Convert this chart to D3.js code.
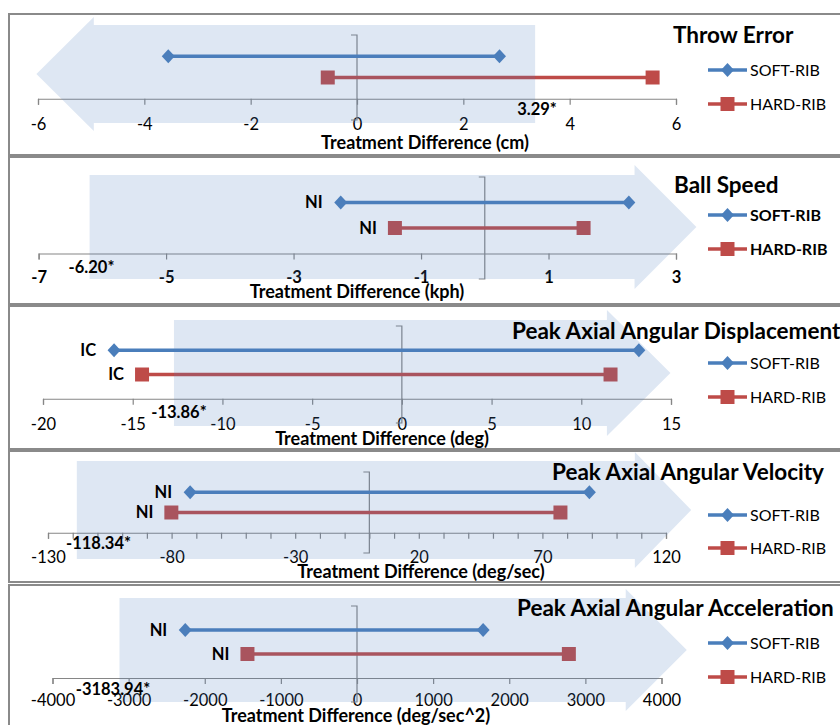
<!DOCTYPE html>
<html><head><meta charset="utf-8">
<script src="https://cdn.jsdelivr.net/npm/d3@7/dist/d3.min.js"></script>
<style>
body{margin:0;background:#fff}
svg{display:block}
text{font-family:Lato,"Open Sans",sans-serif;fill:#000}
</style></head>
<body><svg id="chart" width="840" height="725"></svg>
<script>
// ---------- data ----------
const panelTitles = ["Throw Error","Ball Speed","Peak Axial Angular Displacement","Peak Axial Angular Velocity","Peak Axial Angular Acceleration"];
const axisTitles = ["Treatment Difference (cm)","Treatment Difference (kph)","Treatment Difference (deg)","Treatment Difference (deg/sec)","Treatment Difference (deg/sec^2)"];
const domainMin = [-6,-7,-20,-130,-4000];
const domainMax = [6,3,15,120,4000];
const majorStep = [2,2,5,50,1000];
const minorStep = [2,2,5,10,1000];
const seriesNames = ["SOFT-RIB","HARD-RIB"];
const softLow  = [-3.55,-2.26,-16.04,-72.5,-2256];
const softHigh = [2.68,2.26,13.21,89.0,1657];
const hardLow  = [-0.55,-1.41,-14.48,-80.1,-1439];
const hardHigh = [5.56,1.55,11.63,77.3,2783];
const softNote = ["","NI","IC","NI","NI"];
const hardNote = ["","NI","IC","NI","NI"];
const thresholdLabels = ["3.29*","-6.20*","-13.86*","-118.34*","-3183.94*"];
const arrowTail = [3.35,-6.20,-12.7,-118.34,-3120];
const arrowHeadBase = [-4.95,2.35,11.43,107.4,3530];
const arrowTip = [-6.03,3.32,14.97,130.2,4332];

// ---------- layout ----------
const layout = [
 {top:14,bottom:155,xL:38,xR:676,plotTop:35,plotBot:120,pad:14,cy:74,bodyH:49,headH:57,titleX:673,titleY:35,legY:[70,104],atX:425,atY:143,statX:537,statY:115,bold:false},
 {top:157,bottom:304,xL:38.6,xR:676,plotTop:177,plotBot:279,pad:12,cy:227,bodyH:52,headH:62,titleX:674,titleY:185,legY:[215,249],atX:357,atY:292,statX:91.5,statY:273,bold:true},
 {top:306,bottom:449,xL:43,xR:671,plotTop:326,plotBot:423,pad:14,cy:373,bodyH:53,headH:63,titleX:512,titleY:331,legY:[363,397],atX:382,atY:439,statX:179,statY:418,bold:false},
 {top:451,bottom:582,xL:48,xR:666,plotTop:472,plotBot:553,pad:13,cy:510,bodyH:49,headH:58,titleX:552,titleY:472,legY:[515,548],atX:421,atY:572,statX:98.5,statY:549,bold:false},
 {top:585,bottom:760,xL:52.5,xR:661.5,plotTop:606,plotBot:702,pad:10,cy:650,bodyH:52,headH:61,titleX:517,titleY:608,legY:[643,677],atX:356,atY:716,statX:113,statY:695,bold:false}
];

const BLUE = "#4A7EBB", RED = "#BE4B48", AXIS = "#868686";
const svg = d3.select("#chart");

function diamondPath(){ return "M0,-7L6.5,0L0,7L-6.5,0Z"; }
function squarePath(){ return "M-7,-7H7V7H-7Z"; }

panelTitles.forEach((title,i)=>{
  const L = layout[i];
  const g = svg.append("g");
  // panel frame
  g.append("rect").attr("x",9).attr("y",L.top).attr("width",850).attr("height",L.bottom-L.top)
    .attr("fill","#fff").attr("stroke","#8a8a8a").attr("stroke-width",2);

  const x = d3.scaleLinear().domain([domainMin[i],domainMax[i]]).range([L.xL,L.xR]);
  const y = d3.scaleLinear().domain([0,4]).range([L.plotTop,L.plotBot]);
  const axisY = y(3);

  // x axis
  const minorTicks = d3.range(domainMin[i], domainMax[i]+minorStep[i]/2, minorStep[i]);
  const majorTicks = d3.range(domainMin[i], domainMax[i]+majorStep[i]/2, majorStep[i]);
  const ax = g.append("g").attr("transform",`translate(0,${axisY})`)
    .call(d3.axisBottom(x).tickValues(minorTicks).tickSize(6).tickPadding(L.pad)
      .tickFormat(d => majorTicks.some(m=>Math.abs(m-d)<1e-9) ? d3.format("d")(d).replace("−","-") : ""));
  ax.select(".domain").attr("stroke",AXIS).attr("stroke-width",1.2);
  ax.selectAll(".tick line").attr("stroke",AXIS).attr("stroke-width",1.2);
  ax.selectAll(".tick text").attr("font-family","Lato").attr("font-size",16.5)
    .attr("font-weight",L.bold?"bold":"normal").attr("fill","#000");

  // vertical axis at zero
  const x0 = x(0);
  g.append("path").attr("d",`M${x0-6},${y(0)}H${x0}V${y(4)}H${x0-6}`)
    .attr("fill","none").attr("stroke",AXIS).attr("stroke-width",1.2);

  // series
  const series = [
    {name:seriesNames[0],lo:softLow[i],hi:softHigh[i],note:softNote[i],pos:1,color:BLUE,shape:diamondPath},
    {name:seriesNames[1],lo:hardLow[i],hi:hardHigh[i],note:hardNote[i],pos:2,color:RED,shape:squarePath}
  ];
  series.forEach(s=>{
    g.append("line").attr("x1",x(s.lo)).attr("x2",x(s.hi)).attr("y1",y(s.pos)).attr("y2",y(s.pos))
      .attr("stroke",s.color).attr("stroke-width",3.5);
    [s.lo,s.hi].forEach(v=>{
      g.append("path").attr("d",s.shape()).attr("transform",`translate(${x(v)},${y(s.pos)})`).attr("fill",s.color);
    });
  });

  // arrow overlay
  const xt = x(arrowTail[i]), xb = x(arrowHeadBase[i]), xp = x(arrowTip[i]);
  const pts = [[xt,L.cy-L.bodyH],[xb,L.cy-L.bodyH],[xb,L.cy-L.headH],[xp,L.cy],[xb,L.cy+L.headH],[xb,L.cy+L.bodyH],[xt,L.cy+L.bodyH]];
  g.append("path").attr("d",d3.line()(pts)+"Z").attr("fill","rgb(79,129,189)").attr("fill-opacity",0.19);

  // notes
  series.forEach(s=>{
    if(!s.note) return;
    g.append("text").attr("x",x(s.lo)-18).attr("y",y(s.pos)).attr("dy","0.35em")
      .attr("text-anchor","end").attr("font-size",16.5).attr("font-weight","bold").text(s.note);
  });

  // threshold label
  g.append("text").attr("x",L.statX).attr("y",L.statY).attr("text-anchor","middle")
    .attr("font-size",16.5).attr("font-weight","bold").text(thresholdLabels[i]);

  // axis title
  g.append("text").attr("x",L.atX).attr("y",L.atY).attr("dy","0.35em").attr("text-anchor","middle")
    .attr("font-size",18).attr("font-weight","bold").text(axisTitles[i]);

  // chart title
  g.append("text").attr("x",L.titleX).attr("y",L.titleY).attr("dy","0.35em")
    .attr("font-size",22.5).attr("font-weight","bold").text(title);

  // legend
  series.forEach((s,k)=>{
    const ly = L.legY[k];
    g.append("line").attr("x1",708).attr("x2",747).attr("y1",ly).attr("y2",ly).attr("stroke",s.color).attr("stroke-width",3.5);
    g.append("path").attr("d",s.shape()).attr("transform",`translate(727.5,${ly})`).attr("fill",s.color);
    g.append("text").attr("x",750).attr("y",ly).attr("dy","0.35em").attr("font-size",16)
      .attr("font-weight",L.bold?"bold":"normal").text(s.name);
  });
});
</script>
</body></html>
